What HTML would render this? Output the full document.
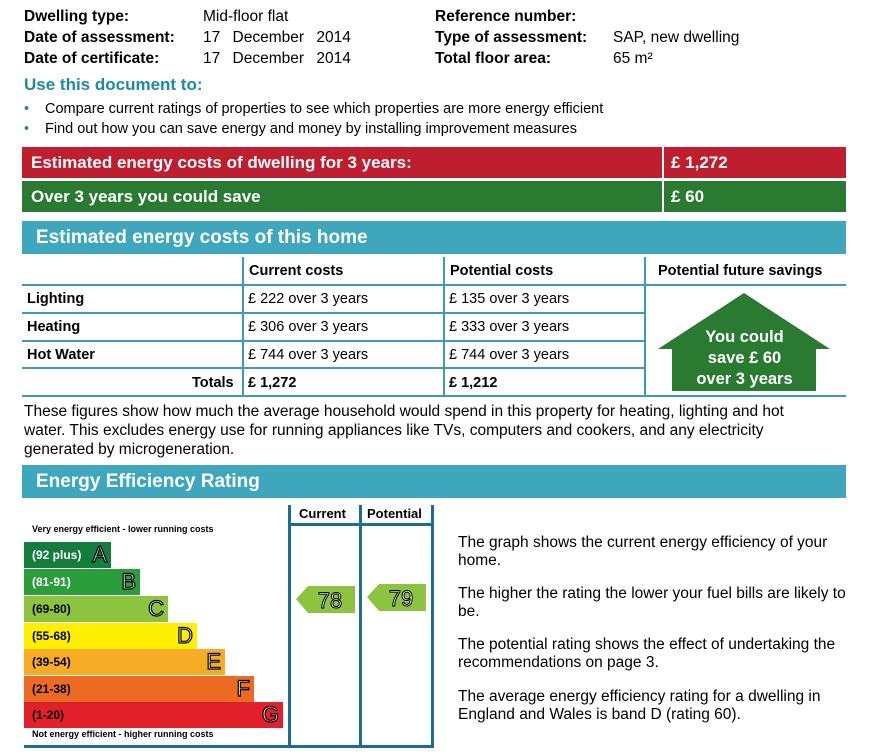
<!DOCTYPE html><html><head><style>
body{margin:0;width:869px;height:756px;background:#fff;font-family:"Liberation Sans",Arial,sans-serif;position:relative;overflow:hidden;color:#000}
.a{position:absolute;white-space:nowrap}
.b{font-weight:bold}
.h{font-size:15.5px;font-weight:bold}
.v{font-size:15.5px}
.bar{position:absolute;left:22px;width:824px;height:31px;color:#fff;font-weight:bold;font-size:17px}
.bar span{position:absolute;top:6px}
.tl{position:absolute;background:#3e9bb5}
.td{position:absolute;font-size:14.5px}
.band{position:absolute;left:24px;height:26px;color:#fff;font-weight:bold;font-size:12px}
.band span{position:absolute;left:8px;top:6px}
.band i{position:absolute;right:4px;top:0;font-style:normal;font-size:22px;font-weight:normal;color:#fff;-webkit-text-stroke:1.2px #000}
.p{position:absolute;left:458px;font-size:15.5px;line-height:18px;width:400px}
</style></head><body>
<div class="a h" style="left:24px;top:8px">Dwelling type:</div>
<div class="a h" style="left:24px;top:29px">Date of assessment:</div>
<div class="a h" style="left:24px;top:50px">Date of certificate:</div>
<div class="a v" style="left:203px;top:8px">Mid-floor flat</div>
<div class="a v" style="left:203px;top:29px;word-spacing:8px">17 December 2014</div>
<div class="a v" style="left:203px;top:50px;word-spacing:8px">17 December 2014</div>
<div class="a h" style="left:435px;top:8px">Reference number:</div>
<div class="a h" style="left:435px;top:29px">Type of assessment:</div>
<div class="a h" style="left:435px;top:50px">Total floor area:</div>
<div class="a v" style="left:613px;top:29px">SAP, new dwelling</div>
<div class="a v" style="left:613px;top:50px">65 m²</div>
<div class="a b" style="left:24px;top:75px;font-size:17px;color:#1e8aa6">Use this document to:</div>
<div class="a" style="left:24px;top:101px;font-size:14.5px;color:#1e8aa6">•</div>
<div class="a" style="left:45px;top:101px;font-size:14.5px">Compare current ratings of properties to see which properties are more energy efficient</div>
<div class="a" style="left:24px;top:121px;font-size:14.5px;color:#1e8aa6">•</div>
<div class="a" style="left:45px;top:121px;font-size:14.5px">Find out how you can save energy and money by installing improvement measures</div>
<div class="bar" style="top:147px;background:#bf1e2e"><span style="left:9px">Estimated energy costs of dwelling for 3 years:</span><span style="left:649px">£ 1,272</span><div style="position:absolute;left:640px;top:0;width:2px;height:31px;background:#fff"></div></div>
<div class="bar" style="top:181px;background:#2a7a32"><span style="left:9px">Over 3 years you could save</span><span style="left:649px">£ 60</span><div style="position:absolute;left:640px;top:0;width:2px;height:31px;background:#fff"></div></div>
<div class="bar" style="top:221px;height:33px;background:#3ea7bd;font-size:19px"><span style="left:14px;top:6px">Estimated energy costs of this home</span></div>
<div class="tl" style="left:22px;top:284px;width:824px;height:2px"></div>
<div class="tl" style="left:22px;top:312px;width:622px;height:2px"></div>
<div class="tl" style="left:22px;top:340px;width:622px;height:2px"></div>
<div class="tl" style="left:22px;top:367px;width:622px;height:2px"></div>
<div class="tl" style="left:22px;top:395px;width:824px;height:2px"></div>
<div class="tl" style="left:242px;top:257px;width:2px;height:139px"></div>
<div class="tl" style="left:443px;top:257px;width:2px;height:139px"></div>
<div class="tl" style="left:644px;top:257px;width:2px;height:139px"></div>
<div class="td b" style="left:249px;top:263px">Current costs</div>
<div class="td b" style="left:450px;top:263px">Potential costs</div>
<div class="td b" style="left:658px;top:263px">Potential future savings</div>
<div class="td b" style="left:27px;top:291px">Lighting</div>
<div class="td b" style="left:27px;top:319px">Heating</div>
<div class="td b" style="left:27px;top:347px">Hot Water</div>
<div class="td b" style="left:192px;top:375px">Totals</div>
<div class="td" style="left:248px;top:291px">£ 222 over 3 years</div>
<div class="td" style="left:248px;top:319px">£ 306 over 3 years</div>
<div class="td" style="left:248px;top:347px">£ 744 over 3 years</div>
<div class="td b" style="left:248px;top:375px">£ 1,272</div>
<div class="td" style="left:449px;top:291px">£ 135 over 3 years</div>
<div class="td" style="left:449px;top:319px">£ 333 over 3 years</div>
<div class="td" style="left:449px;top:347px">£ 744 over 3 years</div>
<div class="td b" style="left:449px;top:375px">£ 1,212</div>
<svg class="a" style="left:655px;top:292px" width="178" height="100"><polygon points="3,57 89,1 175,57 161,57 161,99 17,99 17,57" fill="#2a7a32"/></svg>
<div class="a b" style="left:673px;top:327px;width:143px;text-align:center;color:#fff;font-size:16.5px;line-height:21px">You could<br>save £ 60<br>over 3 years</div>
<div class="a" style="left:24px;top:402px;font-size:15.5px;line-height:19px;white-space:normal;width:800px">These figures show how much the average household would spend in this property for heating, lighting and hot water. This excludes energy use for running appliances like TVs, computers and cookers, and any electricity generated by microgeneration.</div>
<div class="bar" style="top:465px;height:33px;background:#3ea7bd;font-size:19px"><span style="left:14px;top:6px">Energy Efficiency Rating</span></div>
<div class="tl" style="left:288px;top:505px;width:3px;height:243px;background:#1b6d93"></div>
<div class="tl" style="left:359px;top:505px;width:3px;height:243px;background:#1b6d93"></div>
<div class="tl" style="left:431px;top:505px;width:3px;height:243px;background:#1b6d93"></div>
<div class="tl" style="left:288px;top:523px;width:146px;height:3px;background:#1b6d93"></div>
<div class="tl" style="left:24px;top:745px;width:410px;height:3px;background:#1b6d93"></div>
<div class="a b" style="left:299px;top:506px;font-size:13px">Current</div>
<div class="a b" style="left:367px;top:506px;font-size:13px">Potential</div>
<div class="a b" style="left:32px;top:524px;font-size:9px">Very energy efficient - lower running costs</div>
<div class="a b" style="left:32px;top:729px;font-size:9px">Not energy efficient - higher running costs</div>
<div class="band" style="top:542px;width:87px;background:#137d3e"><span>(92 plus)</span><i>A</i></div>
<div class="band" style="top:569px;width:116px;background:#2a9e3a"><span>(81-91)</span><i>B</i></div>
<div class="band" style="top:596px;width:144px;background:#8cc43f"><span style="color:#000">(69-80)</span><i>C</i></div>
<div class="band" style="top:623px;width:173px;background:#fff000"><span style="color:#000">(55-68)</span><i>D</i></div>
<div class="band" style="top:649px;width:201px;background:#f6ac24"><span style="color:#000">(39-54)</span><i>E</i></div>
<div class="band" style="top:676px;width:230px;background:#ed6a24"><span style="color:#000">(21-38)</span><i>F</i></div>
<div class="band" style="top:702px;width:259px;background:#e2202c"><span style="color:#000">(1-20)</span><i>G</i></div>
<svg class="a" style="left:296px;top:586px" width="60" height="28"><polygon points="0,13 12,0 59,0 59,27 12,27" fill="#8cc43f"/><text x="34" y="22" font-size="22" text-anchor="middle" fill="#fff" stroke="#000" stroke-width="1" font-family="Liberation Sans">78</text></svg>
<svg class="a" style="left:367px;top:584px" width="60" height="28"><polygon points="0,13 12,0 59,0 59,27 12,27" fill="#8cc43f"/><text x="34" y="22" font-size="22" text-anchor="middle" fill="#fff" stroke="#000" stroke-width="1" font-family="Liberation Sans">79</text></svg>
<div class="p" style="top:534px">The graph shows the current energy efficiency of your home.</div>
<div class="p" style="top:585px">The higher the rating the lower your fuel bills are likely to be.</div>
<div class="p" style="top:636px">The potential rating shows the effect of undertaking the recommendations on page 3.</div>
<div class="p" style="top:688px">The average energy efficiency rating for a dwelling in England and Wales is band D (rating 60).</div>
</body></html>
